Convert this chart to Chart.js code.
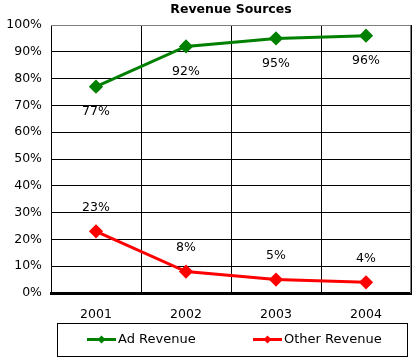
<!DOCTYPE html>
<html>
<head>
<meta charset="utf-8">
<script src="https://cdn.jsdelivr.net/npm/chart.js@4"></script>
<style>
  html, body { margin: 0; padding: 0; background: #fff; }
  canvas { display: block; }
</style>
</head>
<body>
<canvas id="revenueChart" width="419" height="361"></canvas>
<script>
const years = ['2001', '2002', '2003', '2004'];
const adRevenue = [77, 92, 95, 96];
const otherRevenue = [23, 8, 5, 4];
const yTicks = [0, 10, 20, 30, 40, 50, 60, 70, 80, 90, 100];

const FONT = '"DejaVu Sans", Verdana, sans-serif';

// title, plot frame, value labels and boxed legend
const extras = {
    id: 'extras',
    afterDraw(chart) {
        const ctx = chart.ctx;
        const a = chart.chartArea;
        ctx.save();

        // grey top/right frame
        ctx.strokeStyle = '#808080';
        ctx.lineWidth = 1;
        ctx.beginPath();
        ctx.moveTo(a.left, a.top + 0.5);
        ctx.lineTo(a.right - 0.5, a.top + 0.5);
        ctx.lineTo(a.right - 0.5, a.bottom);
        ctx.stroke();

        // title
        ctx.fillStyle = '#000';
        ctx.font = 'bold 12.5px ' + FONT;
        ctx.textAlign = 'center';
        ctx.textBaseline = 'middle';
        ctx.fillText('Revenue Sources', (a.left + a.right) / 2, 10);

        // value labels
        ctx.font = '12.5px ' + FONT;
        chart.data.datasets.forEach((ds, i) => {
            const meta = chart.getDatasetMeta(i);
            const dy = i === 0 ? 25 : -24;
            meta.data.forEach((pt, j) => {
                ctx.fillText(ds.data[j] + '%', pt.x, pt.y + dy);
            });
        });

        // legend box
        ctx.strokeStyle = '#000';
        ctx.strokeRect(57.5, 323.5, 350, 33);
        const starts = [87, 253];
        ctx.textAlign = 'left';
        ctx.font = '13px ' + FONT;
        chart.data.datasets.forEach((ds, i) => {
            const x = starts[i], y = 339.5;
            ctx.strokeStyle = ds.borderColor;
            ctx.lineWidth = 3;
            ctx.beginPath();
            ctx.moveTo(x, y);
            ctx.lineTo(x + 29, y);
            ctx.stroke();
            ctx.fillStyle = ds.borderColor;
            ctx.beginPath();
            ctx.moveTo(x + 14.5, y - 4);
            ctx.lineTo(x + 18.5, y);
            ctx.lineTo(x + 14.5, y + 4);
            ctx.lineTo(x + 10.5, y);
            ctx.closePath();
            ctx.fill();
            ctx.fillStyle = '#000';
            ctx.fillText(ds.label, x + 31, y);
        });
        ctx.restore();
    }
};

new Chart(document.getElementById('revenueChart'), {
    type: 'line',
    data: {
        labels: years,
        datasets: [{
            label: 'Ad Revenue',
            data: adRevenue,
            borderColor: '#008000',
            backgroundColor: '#008000',
            borderWidth: 3,
            pointStyle: 'rectRot',
            pointRadius: 5,
            tension: 0
        }, {
            label: 'Other Revenue',
            data: otherRevenue,
            borderColor: '#ff0000',
            backgroundColor: '#ff0000',
            borderWidth: 3,
            pointStyle: 'rectRot',
            pointRadius: 5,
            tension: 0
        }]
    },
    options: {
        responsive: false,
        animation: false,
        devicePixelRatio: 1,
        layout: { padding: { left: 5, right: 6, top: 25, bottom: 43 } },
        plugins: {
            legend: { display: false },
            title: { display: false },
            tooltip: { enabled: false }
        },
        scales: {
            x: {
                offset: true,
                grid: { offset: true, color: '#000', lineWidth: 1, drawTicks: false },
                border: { color: '#000', width: 3 },
                ticks: { color: '#000', font: { family: FONT, size: 12.5 }, padding: 14 },
                afterFit: s => { s.height = 25; }
            },
            y: {
                min: 0,
                max: 100,
                afterBuildTicks: s => { s.ticks = yTicks.map(v => ({ value: v })); },
                grid: { color: '#000', lineWidth: 1, drawTicks: false },
                border: { color: '#000', width: 1 },
                ticks: {
                    color: '#000',
                    font: { family: FONT, size: 12.5 },
                    padding: 9,
                    callback: v => v + '%'
                },
                afterFit: s => { s.width = 46; }
            }
        }
    },
    plugins: [extras]
});
</script>
</body>
</html>
